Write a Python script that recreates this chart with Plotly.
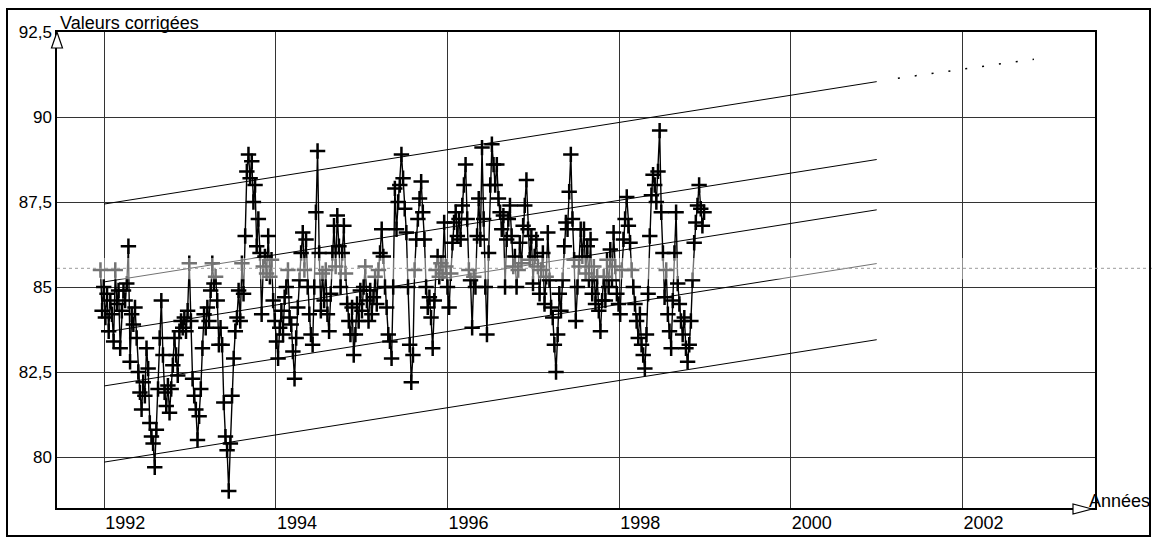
import pandas as pd
import plotly.graph_objects as go

# ---------------- data (weekly corrected values) ----------------
start_date = "1991-12-16"

vals_1 = [85.5, 84.3, 85.0, 84.1, 84.8, 83.7, 84.6, 84.2, 83.4, 85.5,
          84.5, 84.9, 83.2, 84.3, 84.9, 84.6, 85.1, 86.2, 82.8, 84.2,
          83.9, 84.4, 83.5, 82.5, 81.9, 81.4, 82.2, 81.8, 83.2, 82.6,
          81.0, 80.6, 80.4, 79.7, 80.8, 82.0, 83.5, 84.6, 83.0, 81.9,
          81.5, 82.1, 81.3, 82.0, 82.7, 83.5, 83.0, 82.4, 83.7, 84.0,
          83.8, 84.1, 83.7, 84.3, 85.7, 84.0]
vals_2 = [82.3, 81.8, 81.4, 80.5, 81.2, 82.0, 83.2, 84.2, 83.8, 84.4,
          84.0, 84.9, 85.7, 85.1, 85.3, 84.6, 83.3, 83.8, 83.3, 81.6,
          80.6, 80.2, 79.0, 80.4, 81.8, 82.9, 83.7, 84.1, 84.9, 84.0,
          85.7, 84.8, 86.5, 88.4, 88.9, 88.2, 88.7, 87.5, 88.0, 86.2,
          87.0, 86.0, 84.2, 85.6, 85.9, 85.4, 86.5, 85.3, 85.8, 84.6,
          84.0, 83.4]
vals_3 = [82.9, 83.8, 84.3, 83.6, 84.7, 85.0, 85.5, 84.1, 83.9, 83.1,
          82.3, 83.5, 84.4, 85.2, 86.0, 86.6, 85.5, 86.4, 85.0, 84.2,
          83.6, 83.3, 85.0, 87.2, 89.0, 86.0, 84.3, 85.4, 84.6, 85.5,
          84.2, 83.7, 84.8, 86.0, 86.8, 85.6, 87.1, 86.2, 85.0, 86.0,
          86.8, 85.4, 84.5, 84.0, 83.6, 84.4, 83.0, 83.6, 84.5, 84.0,
          84.9, 84.3]
vals_4 = [85.0, 85.6, 84.6, 84.0, 84.9, 84.2, 84.7, 85.3, 84.5, 85.5,
          86.0, 86.7, 85.9, 85.0, 84.4, 83.6, 83.4, 82.9, 85.0, 87.9,
          86.7, 87.5, 88.0, 88.9, 88.2, 87.3, 86.6, 85.0, 83.3, 82.2,
          83.0, 85.5, 86.4, 87.0, 87.6, 88.1, 87.2, 86.4, 85.0, 84.4,
          84.7, 84.1, 83.2, 84.6, 85.5, 85.9, 85.3, 85.7, 85.4, 86.9,
          85.6, 85.0]
vals_5 = [84.4, 85.4, 86.3, 86.9, 87.2, 86.5, 87.0, 86.4, 87.4, 88.0,
          88.6, 87.0, 85.5, 85.2, 83.8, 85.3, 85.0, 86.5, 87.6, 86.4,
          89.1, 87.0, 85.0, 83.6, 86.0, 88.0, 89.2, 88.6, 88.0, 88.6,
          87.6, 87.2, 86.7, 87.1, 85.0, 86.4, 87.0, 87.4, 86.5, 85.6,
          85.9, 85.0, 85.5, 86.3, 85.7, 86.8, 87.4, 88.15, 86.7, 85.8,
          86.5, 85.1]
vals_6 = [85.9, 86.4, 85.6, 84.8, 85.5, 86.0, 84.5, 85.3, 86.6, 85.2,
          84.4, 84.1, 83.3, 82.5, 83.6, 84.8, 84.3, 85.2, 86.2, 86.9,
          86.7, 87.8, 88.9, 87.0, 85.8, 84.0, 85.0, 85.6, 86.7, 85.9,
          86.7, 85.4, 86.2, 85.2, 86.4, 84.8, 85.6, 84.5, 85.3, 84.3,
          83.7, 84.6, 85.3, 84.6, 85.8, 85.0, 86.1, 85.2, 86.6, 85.6,
          84.8, 84.5]
vals_7 = [84.2, 85.5, 86.4, 87.0, 87.65, 86.8, 86.3, 85.5, 85.0, 84.5,
          84.0, 83.5, 84.2, 83.3, 83.0, 82.6, 83.6, 84.8, 86.5, 87.7,
          88.3, 88.0, 87.5, 88.4, 89.6, 87.2, 86.0, 84.7, 85.5, 84.2,
          83.7, 83.2, 84.6, 86.0, 87.2, 85.1, 84.5, 84.0, 83.6, 84.1,
          83.2, 82.8, 83.3, 84.0, 85.2, 86.3, 86.9, 87.4, 88.0, 87.3,
          86.8, 87.2]

# parallel trend band lines
trend_x = ["1992-01-01", "2001-01-01"]
trend_starts = [87.44, 85.15, 83.67, 82.09, 79.85]
trend_ends = [91.04, 88.75, 87.27, 85.69, 83.45]
# dotted extrapolation of the upper line
ext_x = ["2001-04-01", "2002-11-01"]
ext_y = [91.14, 91.70]

mean_level = 85.55

x_tick_vals = ["1992-01-01", "1994-01-01", "1996-01-01",
               "1998-01-01", "2000-01-01", "2002-01-01"]
x_tick_text = ["1992", "1994", "1996", "1998", "2000", "2002"]
y_tick_vals = [80, 82.5, 85, 87.5, 90, 92.5]
y_tick_text = ["80", "82,5", "85", "87,5", "90", "92,5"]
x_range = ["1991-06-14", "2003-07-19"]
y_range = [78.5, 92.5]

# ---------------- figure ----------------
values = vals_1 + vals_2 + vals_3 + vals_4 + vals_5 + vals_6 + vals_7
dates = pd.date_range(start=start_date, periods=len(values), freq="7D")

FONT = "Liberation Sans, Arial, sans-serif"
W, H = 1155, 540
ML, MR, MT, MB = 57, 60, 32, 32
PW, PH = W - ML - MR, H - MT - MB


def px(x):
    return (x - ML) / PW


def py(y):
    return (H - MB - y) / PH


fig = go.Figure()

for y0, y1 in zip(trend_starts, trend_ends):
    fig.add_trace(go.Scatter(x=trend_x, y=[y0, y1], mode="lines",
                             line=dict(color="black", width=1),
                             showlegend=False, hoverinfo="skip"))

fig.add_trace(go.Scatter(x=ext_x, y=ext_y, mode="lines",
                         line=dict(color="black", width=1.5, dash="2px,15px"),
                         showlegend=False, hoverinfo="skip"))

fig.add_trace(go.Scatter(
    x=dates, y=values, mode="lines+markers",
    line=dict(color="black", width=1.4),
    marker=dict(symbol="cross-thin", size=11, color="black",
                line=dict(color="black", width=2.5)),
    showlegend=False))

shapes = [
    # faint grey band / dotted mean line
    dict(type="rect", xref="paper", yref="y", x0=0, x1=1,
         y0=mean_level - 0.32, y1=mean_level + 0.3,
         fillcolor="rgba(255,255,255,0.45)", line=dict(width=0), layer="above"),
    dict(type="line", xref="paper", yref="y", x0=0, x1=px(1155),
         y0=mean_level, y1=mean_level,
         line=dict(color="#9a9a9a", width=1, dash="dot"), layer="above"),
    # outer frame
    dict(type="rect", xref="paper", yref="paper",
         x0=px(7), x1=px(1150), y0=py(536), y1=py(9),
         line=dict(color="black", width=2)),
    # y axis arrow (open triangle)
    dict(type="path", xref="paper", yref="paper",
         path=f"M {px(57)} {py(32)} L {px(51.5)} {py(48)} L {px(62.5)} {py(48)} Z",
         fillcolor="white", line=dict(color="black", width=1.2), layer="above"),
    # x axis arrow (open triangle)
    dict(type="path", xref="paper", yref="paper",
         path=f"M {px(1092)} {py(509)} L {px(1073)} {py(504)} L {px(1073)} {py(514)} Z",
         fillcolor="white", line=dict(color="black", width=1.2), layer="above"),
]

fig.update_layout(
    width=W, height=H, autosize=False,
    margin=dict(l=ML, r=MR, t=MT, b=MB, pad=0, autoexpand=False),
    paper_bgcolor="white", plot_bgcolor="white",
    font=dict(family=FONT, color="black", size=17),
    shapes=shapes,
    annotations=[
        dict(text="Valeurs corrigées", xref="paper", yref="paper", x=0, y=1,
             xanchor="left", yanchor="bottom", xshift=1, yshift=-3,
             showarrow=False, font=dict(size=18, family=FONT, color="black")),
        dict(text="Années", xref="paper", yref="paper", x=px(1087), y=0,
             xanchor="left", yanchor="bottom", yshift=-5,
             showarrow=False, font=dict(size=18, family=FONT, color="black")),
    ],
)

fig.update_xaxes(
    type="date", range=x_range, automargin=False,
    tickmode="array", tickvals=x_tick_vals, ticktext=x_tick_text,
    ticklabelshift=21, ticklabelstandoff=-2,
    tickfont=dict(size=18),
    showgrid=True, gridcolor="#333333", gridwidth=1,
    showline=True, linecolor="black", linewidth=1.5, mirror=True,
    ticks="", zeroline=False,
)
fig.update_yaxes(
    range=y_range, automargin=False,
    tickmode="array", tickvals=y_tick_vals, ticktext=y_tick_text,
    tickfont=dict(size=17),
    showgrid=True, gridcolor="#333333", gridwidth=1,
    showline=True, linecolor="black", linewidth=1.5, mirror=True,
    ticks="", zeroline=False,
)

fig.write_html("out.html",
               config={"displayModeBar": False},
               post_script="document.body.style.margin='0';"
                           "document.body.style.overflow='hidden';")
